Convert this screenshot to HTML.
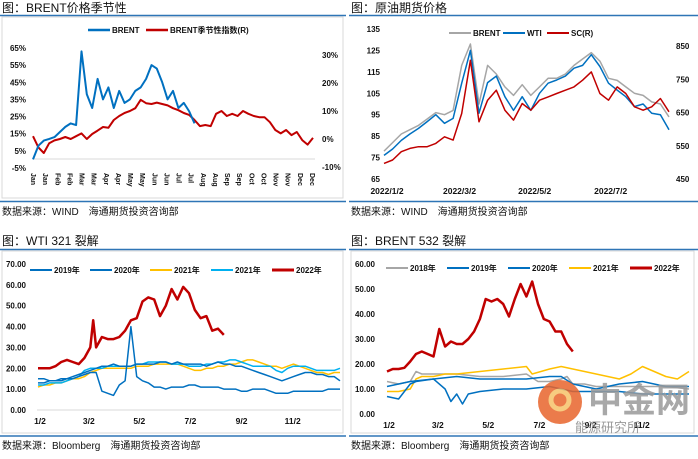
<!DOCTYPE html>
<html><head><meta charset="utf-8">
<style>
html,body{margin:0;padding:0;background:#fff;}
body{width:698px;height:454px;overflow:hidden;font-family:"Liberation Sans","Noto Sans CJK SC",sans-serif;}
svg text{font-family:"Liberation Sans","Noto Sans CJK SC",sans-serif;}
</style></head>
<body>
<svg id="root" width="698" height="454" viewBox="0 0 698 454" xmlns="http://www.w3.org/2000/svg">
<g>
 <text x="2" y="12" font-size="12" fill="#111">图：BRENT价格季节性</text>
 <line x1="0" y1="15.5" x2="346" y2="15.5" stroke="#2E75B6" stroke-width="1.5"/>
 <rect x="2" y="17" width="341" height="181" fill="none" stroke="#d9d9d9"/>
 <line x1="0" y1="201.5" x2="346" y2="201.5" stroke="#2E75B6" stroke-width="1.5"/>
 <text x="2" y="215" font-size="10" fill="#111">数据来源：WIND　海通期货投资咨询部</text>
</g>
<g>
 <text x="351" y="12" font-size="12" fill="#111">图：原油期货价格</text>
 <line x1="349" y1="15.5" x2="698" y2="15.5" stroke="#2E75B6" stroke-width="1.5"/>
 <line x1="349" y1="201.5" x2="698" y2="201.5" stroke="#2E75B6" stroke-width="1.5"/>
 <text x="351" y="215" font-size="10" fill="#111">数据来源：WIND　海通期货投资咨询部</text>
</g>
<g>
 <text x="2" y="245" font-size="12" fill="#111">图：WTI 321 裂解</text>
 <line x1="0" y1="249.5" x2="346" y2="249.5" stroke="#2E75B6" stroke-width="1.5"/>
 <rect x="2" y="251" width="341" height="182" fill="none" stroke="#d9d9d9"/>
 <line x1="0" y1="436" x2="346" y2="436" stroke="#2E75B6" stroke-width="1.5"/>
 <text x="2" y="449" font-size="10" fill="#111">数据来源：Bloomberg　海通期货投资咨询部</text>
</g>
<g>
 <text x="351" y="245" font-size="12" fill="#111">图：BRENT 532 裂解</text>
 <line x1="349" y1="249.5" x2="698" y2="249.5" stroke="#2E75B6" stroke-width="1.5"/>
 <rect x="351" y="251" width="343" height="182" fill="none" stroke="#d9d9d9"/>
 <line x1="349" y1="436" x2="698" y2="436" stroke="#2E75B6" stroke-width="1.5"/>
 <text x="351" y="449" font-size="10" fill="#111">数据来源：Bloomberg　海通期货投资咨询部</text>
</g>
<g id="layer"></g>
<g opacity="0.85">
 <circle cx="560" cy="402" r="22" fill="#E8642C"/>
 <circle cx="560" cy="400" r="9" fill="none" stroke="#F6C26B" stroke-width="5"/>
 <text x="588" y="412" font-size="34" font-weight="bold" fill="#9a9a9a">中金网</text>
 <text x="575" y="432" font-size="13" fill="#888">能源研究所</text>
</g>
</svg>
<script>
// ---------- Panel 1: BRENT seasonality (weekly) ----------
const p1BrentWeeks=[0,1,2,3,4,5,6,7,8,9,10,11,12,13,14,15,16,17,18,19,20,21,22,23,24,25,26,27,28,29,30];
const p1BrentVals=[0,8,11,12,13,16,19,21,20,63,38,30,47,35,42,30,40,33,35,40,42,47,55,53,45,35,40,30,33,28,21];
const p1SeasonWeeks=[0,1,2,3,4,5,6,7,8,9,10,11,12,13,14,15,16,17,18,19,20,21,22,23,24,25,26,27,28,29,30,31,32,33,34,35,36,37,38,39,40,41,42,43,44,45,46,47,48,49,50,51,52];
const p1SeasonVals=[1,-3,-5,-1.5,-0.5,0,0.7,0,1,2,0,1.8,3,4.3,4,6.8,8.2,9.3,10,11,14,12.8,12.5,13,12.5,12,11,10.3,9.3,8.6,6.8,4.6,5,4.6,9,10,8.2,9,8.2,10,9,8.2,7.8,7.8,6,3.2,2,3.2,1.4,2.5,-0.4,-2,0.4];
const p1LeftTicks=[65,55,45,35,25,15,5,-5];
const p1RightTicks=[30,20,10,0,-10];
const p1Months=["Jan","Jan","Feb","Feb","Mar","Mar","Apr","Apr","May","May","Jun","Jun","Jul","Jul","Aug","Aug","Sep","Sep","Oct","Oct","Nov","Nov","Dec","Dec"];
// ---------- Panel 2: crude futures (weekly from 2022/1/2) ----------
const p2Weeks=[0,1,2,3,4,5,6,7,8,9,10,11,12,13,14,15,16,17,18,19,20,21,22,23,24,25,26,27,28,29,30,31,32,33];
const p2Brent=[78,82,86,88,90,93,96,95,97,118,128,100,118,114,108,104,109,104,108,112,112,114,118,121,124,120,112,111,108,105,104,101,100,94];
const p2Wti=[76,79,83,86,88.6,91.8,95,91,93.3,109.7,125,95.7,110,113,103.4,97,103.4,97,105,109.7,111.2,113,116.7,118,123,117.5,109.7,106.5,103.4,98.8,100,95.7,95,88];
const p2Sc=[497,507,532,542,547,547,557,577,567,647,807,622,687,717,657,627,677,657,687,697,707,717,727,747,772,707,687,727,707,667,657,667,692,652];
const p2LeftTicks=[135,125,115,105,95,85,75,65];
const p2RightTicks=[850,750,650,550,450];
const p2XLabels=["2022/1/2","2022/3/2","2022/5/2","2022/7/2"];
const p2XLabelWeeks=[0,8.4,17.1,25.9];
// ---------- Panel 3: WTI 321 crack (weekly) ----------
const p3Full=[0,1,2,3,4,5,6,7,8,9,10,11,12,13,14,15,16,17,18,19,20,21,22,23,24,25,26,27,28,29,30,31,32,33,34,35,36,37,38,39,40,41,42,43,44,45,46,47,48,49,50,51,52];
const p3Y2019=[13,13,14,14,15,15,16,17,18,19,20,21,21,22,21,21,21,22,22,22,22,23,23,22,23,22,22,22,22,21,22,23,22,22,21,21,20,19,18,17,16,15,14,15,16,17,18,18,17,17,16,16,14];
const p3Y2020=[15,15,14,14,14,15,15,16,17,18,18,9,8,7,12,14,40,16,14,13,11,11,10,11,11,11,12,12,11,11,11,11,10,10,10,9,9,10,10,10,9,8,8,8,9,9,9,9,9,9,10,10,10];
const p3Y2021a=[11,12,12,13,13,14,15,15,16,18,19,20,20,20,20,20,20,21,21,21,22,22,22,22,22,21,20,19,19,20,20,21,21,22,22,23,24,24,23,22,21,21,20,21,22,21,20,19,18,18,17,18,18];
const p3Y2021b=[12,12,13,13,13,14,15,16,19,20,20,20,21,21,21,21,21,22,22,23,23,23,23,22,22,22,21,21,21,22,22,23,23,24,24,23,22,21,21,21,21,19,18,20,21,21,21,20,19,19,19,19,20];
const p3Weeks2022=[0,1,2,3,4,5,6,7,8,9,9.5,10,11,12,13,14,15,16,17,18,19,20,21,22,23,24,25,26,27,28,29,30,31,32];
const p3Y2022=[20,20,20,21,23,24,23,22,25,30,43,30,35,34,34,35,38,43,44,52,54,53,45,50,58,53,59,56,48,44,45,38,39,36];
const p3Ticks=[70,60,50,40,30,20,10,0];
const p3XLabels=["1/2","3/2","5/2","7/2","9/2","11/2"];
const p3XLabelWeeks=[0,8.4,17.1,25.9,34.7,43.5];
// ---------- Panel 4: BRENT 532 crack (weekly) ----------
const p4W2018=[0,2,4,5,6,8,10,12,16,20,24,26,28,30,31,32,34,36,40,44,48,52];
const p4Y2018=[13,12,13,17,16,16,16,16,15,15,16,13,13,14,15,12,12,11,11,11,11,10];
const p4W2019=[0,4,8,12,16,20,24,28,30,32,36,40,44,48,52];
const p4Y2019=[11,13,14,15,14,14,14,15,15,12,10,12,13,11,11];
const p4W2020=[0,2,4,5,8,10,11,12,13,14,16,20,24,28,32,36,40,44,48,52];
const p4Y2020=[7,6,12,13,14,10,5,8,4,8,9,10,10,11,9,9,9,8,8,8];
const p4W2021=[0,2,4,5,6,8,10,12,16,20,24,25,28,30,32,34,36,38,40,42,44,46,48,50,52];
const p4Y2021=[9,9,10,14,15,15,16,16,17,18,19,16,18,19,18,17,16,15,14,16,19,17,15,14,17];
const p4W2022=[0,1,2,3,4,5,6,7,8,9,10,11,12,13,14,15,16,17,18,19,20,21,22,23,24,25,26,27,28,29,30,31,32];
const p4Y2022=[17,18,18,18.5,21,24,25,24,23,34,27,29,28,28,30,33,38,46,45,46,44,39,46,52,47,53,44,38,37,33,33,28,25];
const p4Ticks=[60,50,40,30,20,10,0];
const p4XLabels=["1/2","3/2","5/2","7/2","9/2","11/2"];

const NS="http://www.w3.org/2000/svg";
const layer=document.getElementById('layer');
function lin(d0,d1,r0,r1){return v=>r0+(v-d0)/(d1-d0)*(r1-r0);}
function mk(tag,attrs,name,parent){
  const e=document.createElementNS(NS,tag);
  for(const k in attrs)e.setAttribute(k,attrs[k]);
  
  
  (parent||layer).appendChild(e);return e;
}
function series(xs,ys,sx,sy,color,w,name){
  let d='';
  for(let i=0;i<xs.length;i++){d+=(i?'L':'M')+sx(xs[i]).toFixed(1)+','+sy(ys[i]).toFixed(1);}
  mk('path',{d:d,fill:'none',stroke:color,'stroke-width':w,'stroke-linejoin':'round'},name);
}
function txt(x,y,s,size,anchor,name,extra){
  const t=mk('text',Object.assign({x:x,y:y,'font-size':size,'font-weight':'bold','text-anchor':anchor||'start',fill:'#111'},extra||{}),name);
  t.textContent=s;return t;
}
function legend(x,y,color,w,label,name){
  mk('line',{x1:x,y1:y,x2:x+22,y2:y,stroke:color,'stroke-width':w},name+'-swatch');
  txt(x+24,y+3,label,8,'start',name);
}
const BLUE='#0070C0',RED='#C00000',GRAY='#A6A6A6',YEL='#FFC000',CYAN='#00B0F0';

// Panel 1
{
  const sx=lin(0,52,33,313), syL=lin(-5,65,168,48), syR=lin(-10,30,167,55);
  mk('line',{x1:33,y1:159,x2:315,y2:159,stroke:'#d9d9d9'},'x-axis-line');
  p1LeftTicks.forEach(v=>txt(26,syL(v)+3,v+'%',8,'end','left-tick-label'));
  p1RightTicks.forEach(v=>txt(322,syR(v)+3,v+'%',8,'start','right-tick-label'));
  p1Months.forEach((m,i)=>{const x=33+i*(279/23);txt(0,0,m,7,'start','month-label',{transform:'translate('+(x-2)+',173) rotate(90)'});});
  series(p1SeasonWeeks,p1SeasonVals,sx,syR,RED,2,'brent-seasonal-index-line');
  series(p1BrentWeeks,p1BrentVals,sx,syL,BLUE,2,'brent-line');
  legend(88,30,BLUE,2.5,'BRENT','legend-brent');
  legend(146,30,RED,2.5,'BRENT季节性指数(R)','legend-seasonal-index');
}
// Panel 2
{
  const sx=lin(0,33,384,669), syL=lin(65,135,179,29), syR=lin(450,850,179,46);
  p2LeftTicks.forEach(v=>txt(380,syL(v)+3,v,8,'end','left-tick-label'));
  p2RightTicks.forEach(v=>txt(676,syR(v)+3,v,8,'start','right-tick-label'));
  p2XLabels.forEach((l,i)=>txt(sx(p2XLabelWeeks[i])+3,194,l,8.5,'middle','x-tick-label'));
  series(p2Weeks,p2Brent,sx,syL,GRAY,1.5,'brent-line');
  series(p2Weeks,p2Wti,sx,syL,BLUE,1.5,'wti-line');
  series(p2Weeks,p2Sc,sx,syR,RED,1.5,'sc-line');
  legend(449,33,GRAY,2,'BRENT','legend-brent');
  legend(503,33,BLUE,2,'WTI','legend-wti');
  legend(547,33,RED,2,'SC(R)','legend-sc');
}
// Panel 3
{
  const sx=lin(0,52,38,340), sy=lin(0,70,410,264);
  mk('line',{x1:37,y1:410,x2:341,y2:410,stroke:'#d9d9d9'},'x-axis-line');
  p3Ticks.forEach(v=>txt(26,sy(v)+3,v.toFixed(2),8,'end','y-tick-label'));
  p3XLabels.forEach((l,i)=>txt(sx(p3XLabelWeeks[i])+2,424,l,8.5,'middle','x-tick-label'));
  series(p3Full,p3Y2021a,sx,sy,YEL,1.5,'series-2021-yellow');
  series(p3Full,p3Y2021b,sx,sy,CYAN,1.5,'series-2021-cyan');
  series(p3Full,p3Y2019,sx,sy,BLUE,1.5,'series-2019');
  series(p3Full,p3Y2020,sx,sy,BLUE,1.5,'series-2020');
  series(p3Weeks2022,p3Y2022,sx,sy,RED,2.5,'series-2022');
  legend(30,270,BLUE,2,'2019年','legend-2019');
  legend(90,270,BLUE,2,'2020年','legend-2020');
  legend(150,270,YEL,2,'2021年','legend-2021-yellow');
  legend(211,270,CYAN,2,'2021年','legend-2021-cyan');
  legend(272,270,RED,3,'2022年','legend-2022');
}
// Panel 4
{
  const sx=lin(0,52,387,689), sy=lin(0,60,414,264);
  p4Ticks.forEach(v=>txt(375,sy(v)+3,v.toFixed(2),8,'end','y-tick-label'));
  p4XLabels.forEach((l,i)=>txt(sx(p3XLabelWeeks[i])+2,428,l,8.5,'middle','x-tick-label'));
  series(p4W2018,p4Y2018,sx,sy,GRAY,1.5,'series-2018');
  series(p4W2021,p4Y2021,sx,sy,YEL,1.5,'series-2021');
  series(p4W2019,p4Y2019,sx,sy,BLUE,1.5,'series-2019');
  series(p4W2020,p4Y2020,sx,sy,BLUE,1.5,'series-2020');
  series(p4W2022,p4Y2022,sx,sy,RED,2.5,'series-2022');
  legend(386,268,GRAY,2,'2018年','legend-2018');
  legend(447,268,BLUE,2,'2019年','legend-2019');
  legend(508,268,BLUE,2,'2020年','legend-2020');
  legend(569,268,YEL,2,'2021年','legend-2021');
  legend(630,268,RED,3,'2022年','legend-2022');
}
</script>
</body></html>
